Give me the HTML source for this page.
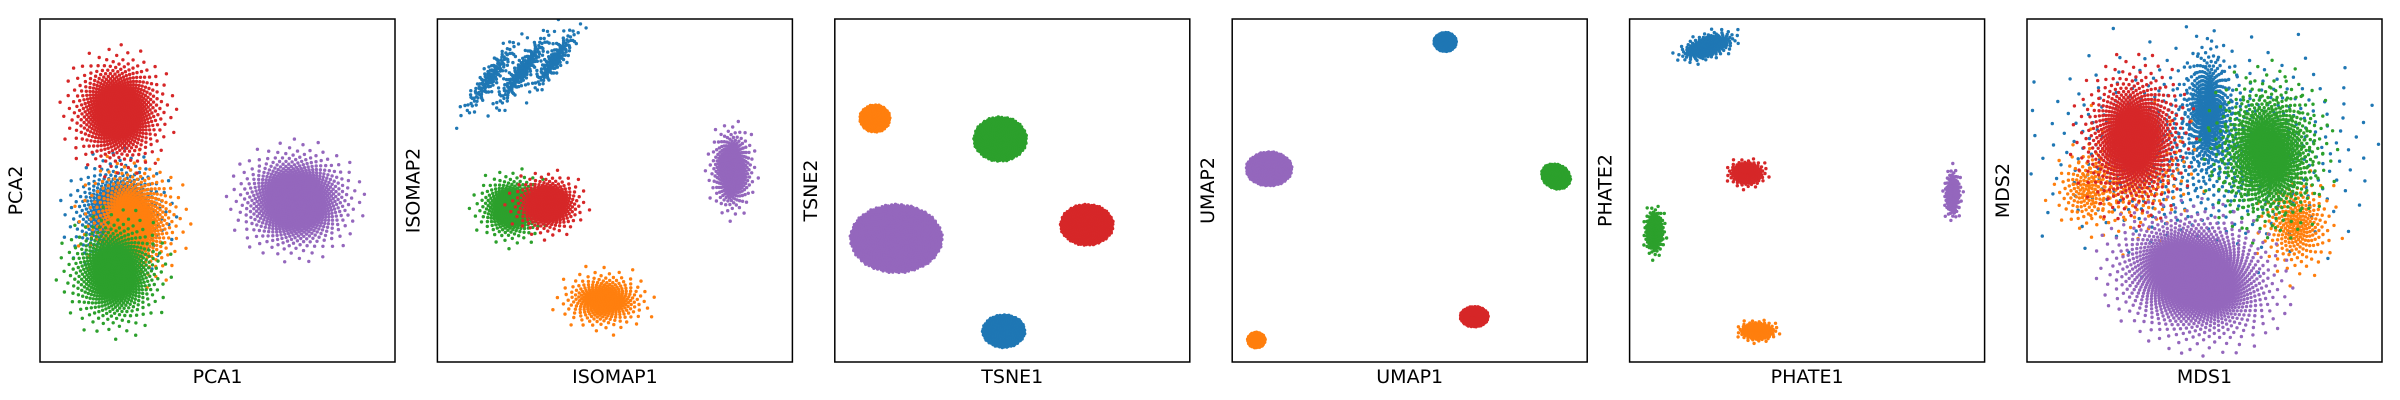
<!DOCTYPE html>
<html><head><meta charset="utf-8"><style>
html,body{margin:0;padding:0;background:#fff;width:2400px;height:400px;overflow:hidden}
svg{display:block}
text{font-family:"DejaVu Sans","Liberation Sans",sans-serif;font-size:19px;fill:#000}
</style></head><body>
<svg id="chart" width="2400" height="400" viewBox="0 0 2400 400" xmlns="http://www.w3.org/2000/svg"></svg>
<script>
const xLabels=["PCA1","ISOMAP1","TSNE1","UMAP1","PHATE1","MDS1"];
const yLabels=["PCA2","ISOMAP2","TSNE2","UMAP2","PHATE2","MDS2"];
const colors=["#1f77b4","#ff7f0e","#2ca02c","#d62728","#9467bd"];
// cluster data (data units 0-100 per axis)
const clusterPanel=[0,0,0,0,0, 1,1,1,1,1,1,1, 2,2,2,2,2, 3,3,3,3,3, 4,4,4,4,4, 5,5,5,5,5,5,5,5,5];
const clusterColor=[0,1,2,3,4, 0,0,0,1,2,3,4, 0,1,2,3,4, 0,1,2,3,4, 0,1,2,3,4, 0,1,2,0,2,1,1,3,4];
const clusterCx=[22,26,21,22,72, 15,24,33,47,21,31,83, 47.6,11.3,46.6,71,17.3, 60,6.8,91.2,68.2,10.4, 22,36,7,33,91, 50,30,68,51,68,17,76,30,47];
const clusterCy=[43,41,26,73,47, 83,85,88,18,45,46,56, 9,71,65,40,36, 93.3,6.4,54.1,13.2,56.3, 92,9,38,55,49, 62,55,60,73,61,50,40,65,25];
const clusterSx=[5.5,5.5,5.5,5.5,6.5, 6,6,5,5,4,4,2.5, 6,4.3,7.5,7.5,13, 3.2,2.5,4.3,4,6.5, 3.5,2.2,1.2,2.2,1, 20,7,6,3,6.5,4,4.5,6,9.5];
const clusterSy=[6.5,7,6.5,6.5,6, 1.2,1.2,1.2,3.5,4,3.5,5, 4.8,4,6.5,6,10, 2.8,2.3,3.5,3,5, 1.5,1.2,2.8,1.6,3, 13,8,8,8,9,5,6,8.5,7.5];
const clusterAngle=[0,0,0,0,0, 55,55,55,0,0,0,0, 0,0,0,0,0, 0,0,-30,0,0, 20,0,0,0,0, 0,0,0,0,0,0,0,0,-20];
const clusterCount=[700,700,800,900,1100, 150,200,150,350,450,450,450, 450,300,550,550,1100, 300,200,300,300,500, 300,250,250,250,200, 700,250,300,500,900,150,250,1000,1800];
const clusterShape=["g","g","g","g","g", "g","g","g","g","g","g","g", "d","d","d","d","d", "d","d","d","d","d", "g","g","g","g","g", "g","g","g","g","g","g","g","g","g"];

const NS="http://www.w3.org/2000/svg";
const svg=document.getElementById('chart');
const PW=355,PH=343,TOP=19;
function panelLeft(p){return 40+p*397.4;}
function xScale(p,v){return panelLeft(p)+v/100*PW;}
function yScale(v){return TOP+(1-v/100)*PH;}
function mk(tag,attrs){const e=document.createElementNS(NS,tag);for(const k in attrs)e.setAttribute(k,attrs[k]);return e;}

const defs=mk('defs',{});svg.appendChild(defs);
const groups=[];
for(let p=0;p<6;p++){
  const cp=mk('clipPath',{id:'clip'+p});
  cp.appendChild(mk('rect',{x:panelLeft(p),y:TOP,width:PW,height:PH}));
  defs.appendChild(cp);
  const g=mk('g',{'clip-path':'url(#clip'+p+')'});
  
  
  svg.appendChild(g);groups.push(g);
}
const order=clusterPanel.map((p,i)=>i).sort((a,b)=>clusterColor[a]-clusterColor[b]||a-b);
for(const i of order){
  const p=clusterPanel[i],n=clusterCount[i];
  const a=clusterAngle[i]*Math.PI/180,ca=Math.cos(a),sa=Math.sin(a);
  const frag=document.createDocumentFragment();
  for(let k=0;k<n;k++){
    const u=(k+0.5)/n;
    let r=clusterShape[i]==="d"?Math.sqrt(u):Math.min(Math.sqrt(-2*Math.log(1-u)),3.0);
    const th=k*2.399963;
    const dx=r*Math.cos(th)*clusterSx[i],dy=r*Math.sin(th)*clusterSy[i];
    const vx=clusterCx[i]+dx*ca-dy*sa,vy=clusterCy[i]+dx*sa+dy*ca;
    const c=mk('circle',{cx:xScale(p,vx).toFixed(1),cy:yScale(vy).toFixed(1),r:1.7,fill:colors[clusterColor[i]]});
    
    
    frag.appendChild(c);
  }
  groups[p].appendChild(frag);
}
for(let p=0;p<6;p++){
  const L=panelLeft(p);
  const fr=mk('rect',{x:L,y:TOP,width:PW,height:PH,fill:'none',stroke:'#000','stroke-width':1.5});
  
  
  svg.appendChild(fr);
  const xt=mk('text',{x:L+PW/2,y:383,'text-anchor':'middle'});
  xt.textContent=xLabels[p];
  
  
  svg.appendChild(xt);
  const yx=L-18,yy=TOP+PH/2;
  const yt=mk('text',{x:yx,y:yy,'text-anchor':'middle',transform:'rotate(-90 '+yx+' '+yy+')'});
  yt.textContent=yLabels[p];
  
  
  svg.appendChild(yt);
}
</script>
</body></html>
